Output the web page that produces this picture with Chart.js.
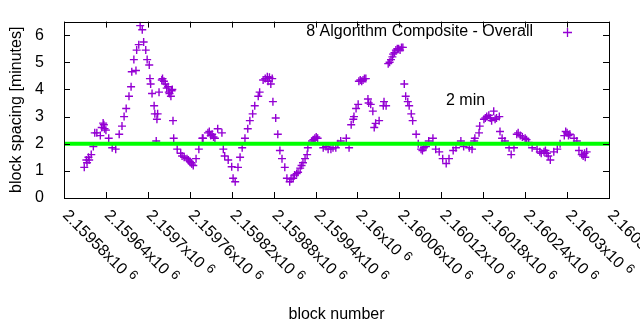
<!DOCTYPE html>
<html lang="en">
<head>
    <meta charset="UTF-8">
    <title>Block spacing - 8 Algorithm Composite</title>
    <script src="https://cdn.jsdelivr.net/npm/chart.js"></script>
    <style>
        body { margin: 0; background: #fff; }
        #chart { display: block; }
    </style>
</head>
<body>
    <canvas id="chart" width="640" height="330"></canvas>

    <script>
        // block numbers and spacing (minutes)
        const blocks = [
            2159609, 2159612, 2159613, 2159615, 2159616, 2159619, 2159622, 2159624, 2159627, 2159632,
            2159634, 2159636, 2159637, 2159638, 2159640, 2159644, 2159649, 2159654, 2159659, 2159663,
            2159666, 2159669, 2159673, 2159676, 2159677, 2159680, 2159683, 2159684, 2159687, 2159689,
            2159692, 2159694, 2159697, 2159699, 2159702, 2159703, 2159704, 2159706, 2159709, 2159710,
            2159712, 2159713, 2159714, 2159716, 2159720, 2159721, 2159723, 2159725, 2159727, 2159729,
            2159730, 2159731, 2159733, 2159734, 2159735, 2159736, 2159737, 2159742, 2159747, 2159749,
            2159752, 2159756, 2159758, 2159760, 2159762, 2159763, 2159765, 2159769, 2159773, 2159778,
            2159779, 2159786, 2159788, 2159790, 2159792, 2159794, 2159796, 2159800, 2159806, 2159808,
            2159810, 2159815, 2159820, 2159822, 2159825, 2159829, 2159832, 2159835, 2159839, 2159843,
            2159846, 2159850, 2159853, 2159858, 2159860, 2159865, 2159868, 2159871, 2159872, 2159874,
            2159876, 2159878, 2159879, 2159883, 2159886, 2159889, 2159892, 2159896, 2159899, 2159903,
            2159905, 2159908, 2159910, 2159913, 2159915, 2159918, 2159920, 2159922, 2159925, 2159928,
            2159929, 2159935, 2159937, 2159939, 2159941, 2159943, 2159951, 2159955, 2159958, 2159962,
            2159965, 2159969, 2159972, 2159976, 2159984, 2159988, 2159991, 2159994, 2159995, 2159998,
            2160001, 2160002, 2160004, 2160006, 2160008, 2160010, 2160012, 2160015, 2160016, 2160019,
            2160022, 2160024, 2160026, 2160031, 2160037, 2160038, 2160041, 2160044, 2160046, 2160048,
            2160050, 2160051, 2160053, 2160055, 2160057, 2160059, 2160061, 2160063, 2160065, 2160067,
            2160069, 2160072, 2160074, 2160077, 2160079, 2160084, 2160087, 2160091, 2160093, 2160095,
            2160098, 2160102, 2160108, 2160112, 2160117, 2160122, 2160127, 2160131, 2160137, 2160141,
            2160148, 2160152, 2160160, 2160164, 2160167, 2160168, 2160174, 2160175, 2160181, 2160183,
            2160185, 2160188, 2160190, 2160192, 2160195, 2160197, 2160199, 2160203, 2160204, 2160207,
            2160211, 2160217, 2160220, 2160224, 2160228, 2160230, 2160233, 2160236, 2160240, 2160242,
            2160245, 2160250, 2160257, 2160261, 2160263, 2160267, 2160269, 2160271, 2160273, 2160276,
            2160281, 2160286, 2160290, 2160296, 2160298, 2160300, 2160302, 2160304, 2160310, 2160314,
            2160317, 2160321, 2160323, 2160325, 2160326, 2160328
        ];
        const spacing = [
            1.13, 1.4, 1.3, 1.5, 1.4, 1.6, 1.9, 2.4, 2.4, 2.3,
            2.6, 2.76, 2.7, 2.55, 2.5, 2.2, 1.85, 1.8, 2.35, 2.65,
            3.0, 3.3, 3.75, 4.1, 4.65, 5.1, 4.7, 5.45, 5.65, 6.35,
            6.2, 5.75, 5.45, 5.1, 4.9, 4.4, 4.2, 3.85, 3.4, 3.1,
            2.1, 2.9, 3.1, 3.9, 4.35, 4.4, 4.3, 4.2, 4.05, 4.1,
            3.9, 3.85, 3.75, 3.95, 4.0, 2.85, 2.2, 1.8, 1.65, 1.55,
            1.5, 1.45, 1.4, 1.35, 1.3, 1.25, 1.2, 1.45, 1.8, 2.2,
            2.2, 2.4, 2.45, 2.3, 2.35, 2.25, 2.2, 2.55, 2.4, 1.8,
            1.55, 1.4, 1.15, 0.73, 0.6, 1.13, 1.5, 1.85, 2.2, 2.55,
            2.85, 3.1, 3.4, 3.75, 3.9, 4.35, 4.4, 4.47, 4.3, 4.45,
            4.2, 4.4, 3.55, 2.95, 2.35, 1.75, 1.45, 1.13, 0.73, 0.6,
            0.7, 0.73, 0.85, 0.9, 0.95, 1.1, 1.2, 1.3, 1.45, 1.6,
            1.85, 2.1, 2.15, 2.2, 2.25, 2.2, 1.85, 1.9, 1.8, 1.8,
            1.85, 1.85, 2.0, 2.1, 2.2, 1.85, 2.7, 2.9, 3.0, 3.3,
            3.45, 4.3, 4.35, 4.3, 4.35, 4.4, 4.4, 3.65, 3.5, 3.45,
            3.2, 2.6, 2.75, 2.85, 3.4, 3.55, 3.4, 4.95, 5.0, 5.1,
            5.2, 5.3, 5.35, 5.45, 5.5, 5.5, 5.45, 5.55, 5.55, 4.2,
            3.75, 3.55, 3.4, 3.1, 2.85, 2.35, 2.0, 1.8, 1.75, 1.85,
            1.9, 2.1, 2.2, 1.8, 1.7, 1.45, 1.27, 1.45, 1.75, 1.85,
            2.1, 1.9, 1.85, 1.8, 2.1, 2.2, 2.4, 2.65, 2.9, 2.95,
            3.0, 3.05, 2.95, 2.85, 3.2, 2.9, 2.95, 3.0, 2.45, 2.2,
            2.1, 1.85, 1.6, 1.85, 2.35, 2.4, 2.3, 2.25, 2.2, 2.15,
            2.05, 1.85, 1.8, 1.7, 1.65, 1.7, 1.75, 1.65, 1.55, 1.4,
            1.7, 1.8, 2.0, 2.3, 2.45, 2.4, 2.3, 2.35, 2.2, 2.1,
            1.75, 1.6, 1.55, 1.65, 1.5, 1.7
        ];

        const targetMinutes = [2, 2];
        const xMin = 2159580;
        const xMax = 2160360;
        const xTicks = [2159580, 2159640, 2159700, 2159760, 2159820, 2159880, 2159940,
                        2160000, 2160060, 2160120, 2160180, 2160240, 2160300, 2160360];
        const xTickLabels = ['2.15958', '2.15964', '2.1597', '2.15976', '2.15982', '2.15988', '2.15994',
                             '2.16', '2.16006', '2.16012', '2.16018', '2.16024', '2.1603', '2.16036'];
        const yTicks = [0, 1, 2, 3, 4, 5, 6];

        const FONT = "'Liberation Sans', Arial, sans-serif";
        const PURPLE = '#9400d3';

        // gnuplot-like frame, mirrored ticks, rotated labels and key
        const framePlugin = {
            id: 'frame',
            afterDraw(chart) {
                const ctx = chart.ctx;
                const a = chart.chartArea;
                const xs = chart.scales.x;
                const ys = chart.scales.y;
                ctx.save();
                ctx.strokeStyle = '#000';
                ctx.lineWidth = 1;
                ctx.strokeRect(Math.round(a.left) + 0.5, Math.round(a.top) + 0.5,
                               Math.round(a.right - a.left), Math.round(a.bottom - a.top));
                ctx.beginPath();
                xTicks.forEach(v => {
                    const px = Math.round(xs.getPixelForValue(v)) + 0.5;
                    ctx.moveTo(px, a.bottom); ctx.lineTo(px, a.bottom - 6);
                    ctx.moveTo(px, a.top); ctx.lineTo(px, a.top + 6);
                });
                yTicks.forEach(v => {
                    const py = Math.round(ys.getPixelForValue(v)) + 0.5;
                    ctx.moveTo(a.left, py); ctx.lineTo(a.left + 6, py);
                    ctx.moveTo(a.right, py); ctx.lineTo(a.right - 6, py);
                });
                ctx.stroke();

                ctx.fillStyle = '#000';
                ctx.textBaseline = 'middle';
                xTicks.forEach((v, i) => {
                    const px = xs.getPixelForValue(v);
                    ctx.save();
                    ctx.translate(px + 1, a.bottom + 15);
                    ctx.rotate(Math.PI / 4);
                    ctx.textAlign = 'left';
                    ctx.font = '16px ' + FONT;
                    const txt = xTickLabels[i] + 'x10';
                    ctx.fillText(txt, 0, 0);
                    const w = ctx.measureText(txt).width;
                    ctx.font = '13px ' + FONT;
                    ctx.fillText('6', w + 5, -4);
                    ctx.restore();
                });

                ctx.font = '16px ' + FONT;
                ctx.textAlign = 'center';
                ctx.fillText('block number', (a.left + a.right) / 2, 315);
                ctx.save();
                ctx.translate(17, (a.top + a.bottom) / 2);
                ctx.rotate(-Math.PI / 2);
                ctx.fillText('block spacing [minutes]', 0, 0);
                ctx.restore();

                ctx.textAlign = 'right';
                ctx.fillText('8 Algorithm Composite - Overall', 533, 32);
                ctx.textAlign = 'left';
                ctx.fillText('2 min', 446, 101);

                ctx.strokeStyle = PURPLE;
                ctx.lineWidth = 1.3;
                ctx.beginPath();
                ctx.moveTo(563, 32.5); ctx.lineTo(572, 32.5);
                ctx.moveTo(567.5, 28); ctx.lineTo(567.5, 37);
                ctx.stroke();
                ctx.restore();
            }
        };

        const ctx = document.getElementById('chart').getContext('2d');
        const chart = new Chart(ctx, {
            type: 'scatter',
            data: {
                datasets: [
                    {
                        label: '8 Algorithm Composite - Overall',
                        data: blocks.map((b, i) => ({ x: b, y: spacing[i] })),
                        pointStyle: 'cross',
                        pointRadius: 4,
                        borderWidth: 1.4,
                        borderColor: PURPLE,
                        backgroundColor: PURPLE,
                        order: 2
                    },
                    {
                        label: '2 min',
                        data: [{ x: xMin, y: targetMinutes[0] }, { x: xMax, y: targetMinutes[1] }],
                        showLine: true,
                        borderColor: '#00ff00',
                        borderWidth: 4,
                        pointRadius: 0,
                        order: 1
                    }
                ]
            },
            options: {
                responsive: false,
                animation: false,
                events: [],
                layout: { padding: { left: 0, right: 31, top: 19, bottom: 0 } },
                plugins: { legend: { display: false }, tooltip: { enabled: false } },
                scales: {
                    x: {
                        type: 'linear',
                        min: xMin,
                        max: xMax,
                        grid: { display: false },
                        border: { display: false },
                        ticks: { display: false },
                        afterFit: s => { s.height = 132; }
                    },
                    y: {
                        min: 0,
                        max: 6.5,
                        grid: { display: false },
                        border: { display: false },
                        ticks: { color: '#000', padding: 12, font: { family: FONT, size: 16 } },
                        afterBuildTicks: s => { s.ticks = yTicks.map(v => ({ value: v })); },
                        afterFit: s => { s.width = 64; }
                    }
                }
            },
            plugins: [framePlugin]
        });
    </script>
</body>
</html>
